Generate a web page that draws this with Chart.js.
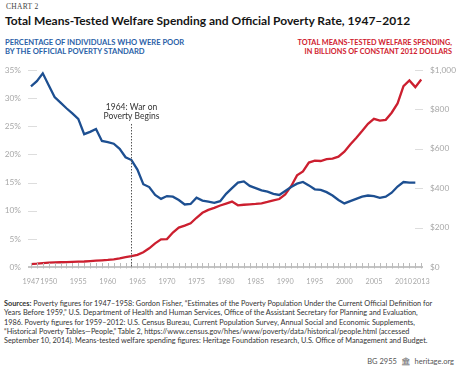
<!DOCTYPE html>
<html>
<head>
<meta charset="utf-8">
<script src="https://cdn.jsdelivr.net/npm/chart.js@4"></script>
<style>
  html, body { margin: 0; padding: 0; background: #fff; }
  body { width: 474px; height: 374px; position: relative; overflow: hidden; font-family: Lato, "Open Sans", sans-serif; }
  .abs { position: absolute; white-space: nowrap; }
  #kicker { left: 6px; top: 2px; font: 7.5px "Liberation Serif", serif; color: #444; letter-spacing: 0.3px; }
  #title { left: 5px; top: 13px; font-weight: 700; font-size: 12px; color: #151515; }
  #subL { left: 5px; top: 38px; font-weight: 700; font-size: 7.6px; line-height: 9px; color: #2b5fa8; }
  #subR { right: 22px; top: 38px; font-weight: 700; font-size: 7.3px; line-height: 9px; color: #d0202e; text-align: right; }
  #wrap { left: 0; top: 58px; width: 474px; height: 230px; }
  #src { left: 4px; top: 299px; font-size: 7.3px; line-height: 9.3px; color: #333; }
  #foot { right: 20px; top: 357px; font-size: 7.5px; color: #555; }
</style>
</head>
<body>
<div class="abs" id="kicker">CHART 2</div>
<div class="abs" id="title">Total Means-Tested Welfare Spending and Official Poverty Rate, 1947–2012</div>
<div class="abs" id="subL">PERCENTAGE OF INDIVIDUALS WHO WERE POOR<br>BY THE OFFICIAL POVERTY STANDARD</div>
<div class="abs" id="subR">TOTAL MEANS-TESTED WELFARE SPENDING,<br>IN BILLIONS OF CONSTANT 2012 DOLLARS</div>
<div class="abs" id="wrap"><canvas id="grafico"></canvas></div>
<div class="abs" id="src"><b>Sources:</b> Poverty figures for 1947–1958: Gordon Fisher, “Estimates of the Poverty Population Under the Current Official Definition for<br>Years Before 1959,” U.S. Department of Health and Human Services, Office of the Assistant Secretary for Planning and Evaluation,<br>1986. Poverty figures for 1959–2012: U.S. Census Bureau, Current Population Survey, Annual Social and Economic Supplements,<br>“Historical Poverty Tables—People,” Table 2, https://www.census.gov/hhes/www/poverty/data/historical/people.html (accessed<br>September 10, 2014). Means-tested welfare spending figures: Heritage Foundation research, U.S. Office of Management and Budget.</div>
<div class="abs" id="foot">BG 2955 &nbsp;🏛&nbsp; heritage.org</div>
<script>
// years 1947-2013
const years = [];
for (let y = 1947; y <= 2013; y++) years.push(y);

// poverty rate (%), 1947-2012
const povertyRate = [
  32.1, 33.0, 34.4, 32.3, 30.2, 29.2, 28.2, 27.3, 26.3, 23.6,
  24.0, 24.5, 22.4, 22.2, 21.9, 21.0, 19.5, 19.0, 17.3, 14.7,
  14.2, 12.8, 12.1, 12.6, 12.5, 11.9, 11.1, 11.2, 12.3, 11.8,
  11.6, 11.4, 11.7, 13.0, 14.0, 15.0, 15.2, 14.4, 14.0, 13.6,
  13.4, 13.0, 12.8, 13.5, 14.2, 14.8, 15.1, 14.5, 13.8, 13.7,
  13.3, 12.7, 11.9, 11.3, 11.7, 12.1, 12.5, 12.7, 12.6, 12.3,
  12.5, 13.2, 14.3, 15.1, 15.0, 15.0
];

// welfare spending, billions of 2012 dollars, 1947-2013
const welfareSpending = [
  15, 17, 20, 22, 23, 24, 25, 26, 27, 28,
  30, 32, 34, 36, 39, 44, 50, 55, 62, 75,
  95, 120, 140, 142, 175, 200, 210, 222, 250, 275,
  290, 300, 312, 322, 332, 313, 316, 318, 320, 323,
  330, 338, 345, 368, 410, 465, 485, 530, 540, 538,
  547, 550, 560, 585, 622, 655, 690, 727, 752, 743,
  747, 783, 830, 918, 947, 913, 952
];

const yearLabels = [1947, 1950, 1955, 1960, 1965, 1970, 1975, 1980, 1985, 1990, 1995, 2000, 2005, 2010, 2013];
const pctTicks = [0, 5, 10, 15, 20, 25, 30, 35];
const dollarTicks = [0, 200, 400, 600, 800, 1000];
const warOnPoverty = 1964;

const azul = "#1d4f91";
const rojo = "#cc1f2f";
const gris = "#a8a8a8";

// short tick marks, year ticks and the 1964 marker
const marcas = {
  id: "marcas",
  afterDatasetsDraw(chart) {
    const c = chart.ctx, a = chart.chartArea;
    const x = chart.scales.x, yl = chart.scales.y, yr = chart.scales.y1;
    c.save();
    c.strokeStyle = "#ddd";
    c.lineWidth = 1;
    pctTicks.forEach(v => {
      if (v === 0) return;
      const p = Math.round(yl.getPixelForValue(v)) + 0.5;
      c.beginPath(); c.moveTo(a.left, p); c.lineTo(a.left + 9, p); c.stroke();
    });
    dollarTicks.forEach(v => {
      if (v === 0) return;
      const p = Math.round(yr.getPixelForValue(v)) + 0.5;
      c.beginPath(); c.moveTo(a.right - 8, p); c.lineTo(a.right, p); c.stroke();
    });
    // x axis line + year ticks
    c.strokeStyle = "#8a8a8a";
    c.lineWidth = 1.2;
    c.beginPath(); c.moveTo(a.left, a.bottom); c.lineTo(a.right, a.bottom); c.stroke();
    c.strokeStyle = "#bbb";
    c.lineWidth = 1;
    years.forEach(yv => {
      const p = Math.round(x.getPixelForValue(yv)) + 0.5;
      c.beginPath(); c.moveTo(p, a.bottom - 4); c.lineTo(p, a.bottom + 1.5); c.stroke();
    });
    // war on poverty marker
    const px = Math.round(x.getPixelForValue(warOnPoverty)) + 0.5;
    c.strokeStyle = "#555";
    c.setLineDash([1.5, 1.5]);
    c.beginPath(); c.moveTo(px, a.top + 54); c.lineTo(px, a.bottom); c.stroke();
    c.setLineDash([]);
    c.fillStyle = "#333";
    c.font = "8.5px Lato, sans-serif";
    c.textAlign = "center";
    c.textBaseline = "middle";
    c.fillText("1964: War on", px, a.top + 37);
    c.fillText("Poverty Begins", px, a.top + 46);
    c.restore();
  }
};

document.addEventListener("DOMContentLoaded", function() {
  const ctx = document.getElementById("grafico").getContext("2d");

  new Chart(ctx, {
    type: "line",
    data: {
      labels: years,
      datasets: [{
        label: "Poverty rate",
        data: povertyRate.map((v, i) => ({ x: years[i], y: v })),
        borderColor: azul,
        borderWidth: 2.3,
        pointRadius: 0,
        tension: 0,
        yAxisID: "y"
      }, {
        label: "Welfare spending",
        data: welfareSpending.map((v, i) => ({ x: years[i], y: v })),
        borderColor: rojo,
        borderWidth: 2.3,
        pointRadius: 0,
        tension: 0,
        yAxisID: "y1"
      }]
    },
    options: {
      responsive: true,
      maintainAspectRatio: false,
      animation: false,
      layout: { padding: { top: 9, bottom: 0, left: 0, right: 0 } },
      plugins: { legend: { display: false }, tooltip: { enabled: false } },
      scales: {
        x: {
          type: "linear",
          min: 1946.5,
          max: 2013.3,
          afterBuildTicks: s => { s.ticks = yearLabels.map(v => ({ value: v })); },
          afterFit: s => { s.height = 21; },
          grid: { display: false, drawTicks: false },
          border: { display: false },
          ticks: {
            autoSkip: false, maxRotation: 0, padding: 10,
            color: gris, font: { family: "Lato", size: 7.3 },
            callback: v => String(v)
          }
        },
        y: {
          position: "left",
          min: 0, max: 35,
          afterBuildTicks: s => { s.ticks = pctTicks.map(v => ({ value: v })); },
          afterFit: s => { s.width = 28; },
          grid: { display: false, drawTicks: false },
          border: { display: false },
          ticks: { padding: 7, color: gris, font: { family: "Lato", size: 8.3 }, callback: v => v + "%" }
        },
        y1: {
          position: "right",
          min: 0, max: 1000,
          afterBuildTicks: s => { s.ticks = dollarTicks.map(v => ({ value: v })); },
          afterFit: s => { s.width = 51; },
          grid: { display: false, drawTicks: false },
          border: { display: false },
          ticks: { padding: 7, color: gris, font: { family: "Lato", size: 8.3 }, callback: v => "$" + v.toLocaleString("en-US") }
        }
      }
    },
    plugins: [marcas]
  });
});
</script>
</body>
</html>
